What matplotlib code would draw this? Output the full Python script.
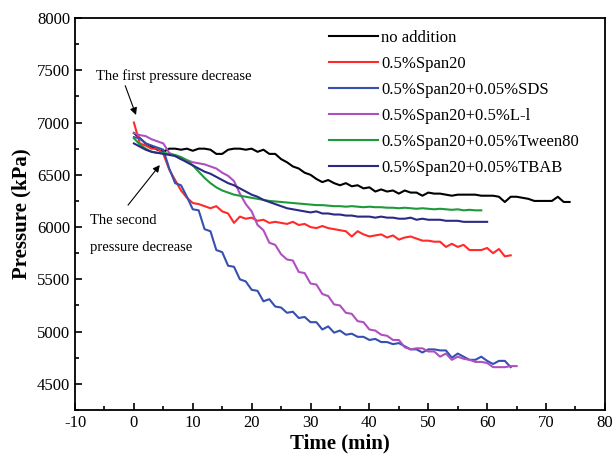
import numpy as np
from matplotlib import pyplot as plt
from matplotlib.ticker import MultipleLocator

plt.rcParams["font.family"] = ["Liberation Serif", "DejaVu Serif"]
plt.rcParams["axes.unicode_minus"] = False

# pressure readings (kPa), one per minute starting at t = 0
no_addition = [6900, 6850, 6800, 6770, 6740, 6720, 6750, 6750, 6740, 6750,
               6730, 6750, 6750, 6740, 6700, 6700, 6740, 6750, 6750, 6740,
               6750, 6720, 6740, 6700, 6700, 6650, 6620, 6580, 6560, 6520,
               6500, 6460, 6430, 6450, 6420, 6400, 6420, 6390, 6400, 6370,
               6380, 6340, 6360, 6340, 6350, 6320, 6350, 6330, 6330, 6300,
               6330, 6320, 6320, 6310, 6300, 6310, 6310, 6310, 6310, 6300,
               6300, 6300, 6290, 6240, 6290, 6290, 6280, 6270, 6250, 6250,
               6250, 6250, 6290, 6240, 6240]
span20 = [7000, 6800, 6780, 6750, 6750, 6700, 6550, 6450, 6350, 6280,
          6230, 6220, 6200, 6180, 6200, 6150, 6130, 6040, 6100, 6080,
          6090, 6060, 6070, 6040, 6050, 6040, 6030, 6050, 6020, 6030,
          6000, 5990, 6010, 5990, 5980, 5970, 5960, 5910, 5960, 5930,
          5910, 5920, 5930, 5900, 5920, 5880, 5900, 5910, 5890, 5870,
          5870, 5860, 5860, 5810, 5840, 5810, 5830, 5780, 5780, 5780,
          5800, 5750, 5790, 5720, 5730]
span20_sds = [6860, 6850, 6800, 6780, 6760, 6740, 6560, 6420, 6400, 6290,
              6170, 6160, 5980, 5960, 5780, 5760, 5630, 5620, 5500, 5480,
              5400, 5390, 5290, 5310, 5240, 5230, 5180, 5190, 5130, 5140,
              5090, 5090, 5020, 5050, 4990, 5010, 4970, 4980, 4950, 4950,
              4920, 4930, 4900, 4900, 4880, 4890, 4860, 4830, 4830, 4800,
              4830, 4830, 4820, 4820, 4750, 4790, 4760, 4730, 4730, 4760,
              4720, 4690, 4720, 4720, 4660]
span20_l1 = [6900, 6880, 6870, 6840, 6820, 6800, 6710, 6680, 6650, 6640,
             6620, 6610, 6600, 6580, 6560, 6520, 6490, 6440, 6320, 6220,
             6150, 6020, 5970, 5850, 5830, 5740, 5690, 5680, 5570, 5560,
             5460, 5450, 5360, 5340, 5260, 5250, 5180, 5170, 5100, 5090,
             5020, 5010, 4970, 4960, 4920, 4920, 4850, 4830, 4840, 4840,
             4810, 4810, 4760, 4790, 4730, 4760, 4740, 4730, 4710, 4710,
             4700, 4660, 4660, 4660, 4670, 4670]
span20_tween = [6850, 6790, 6750, 6720, 6710, 6710, 6700, 6690, 6670, 6640,
                6590, 6530, 6470, 6420, 6380, 6350, 6330, 6310, 6300, 6290,
                6280, 6270, 6260, 6250, 6245, 6240, 6235, 6230, 6225, 6220,
                6215, 6210, 6210, 6205, 6200, 6200, 6195, 6200, 6195, 6190,
                6195, 6190, 6190, 6185, 6185, 6180, 6185, 6180, 6175, 6180,
                6175, 6170, 6175, 6170, 6165, 6170, 6160, 6165, 6160, 6160]
span20_tbab = [6800, 6770, 6740, 6720, 6710, 6700, 6690, 6680, 6650, 6620,
               6590, 6560, 6530, 6510, 6480, 6450, 6420, 6400, 6370, 6340,
               6310, 6290, 6260, 6240, 6220, 6200, 6180, 6170, 6160, 6150,
               6140, 6150, 6130, 6130, 6120, 6120, 6110, 6110, 6100, 6100,
               6100, 6090, 6100, 6090, 6090, 6080, 6080, 6090, 6070, 6080,
               6070, 6070, 6070, 6060, 6060, 6060, 6050, 6050, 6050, 6050,
               6050]

series = [
    ("no addition", no_addition, "black"),
    ("0.5%Span20", span20, "#ff2a2a"),
    ("0.5%Span20+0.05%SDS", span20_sds, "#3550b0"),
    ("0.5%Span20+0.5%L-l", span20_l1, "#b050c0"),
    ("0.5%Span20+0.05%Tween80", span20_tween, "#1f9a3a"),
    ("0.5%Span20+0.05%TBAB", span20_tbab, "#2a2a85"),
]

fig = plt.figure(figsize=(6.16, 4.58), dpi=100)
ax = fig.add_axes([0.1218, 0.1048, 0.8602, 0.8559])

for label, p, color in series:
    t = np.arange(len(p))
    ax.plot(t, p, color=color, lw=1.5, label=label)

ax.set_xlim(-10, 80)
ax.set_ylim(4250, 8000)
ax.xaxis.set_major_locator(MultipleLocator(10))
ax.xaxis.set_minor_locator(MultipleLocator(5))
ax.yaxis.set_major_locator(MultipleLocator(500))
ax.yaxis.set_minor_locator(MultipleLocator(250))
ax.tick_params(which="both", direction="in", labelsize=12, width=1.2)
ax.tick_params(which="major", length=5)
ax.tick_params(which="minor", length=3)
for s in ax.spines.values():
    s.set_linewidth(1.3)

ax.set_xlabel("Time (min)", fontsize=15, fontweight="bold", labelpad=2)
ax.set_ylabel("Pressure (kPa)", fontsize=15, fontweight="bold", labelpad=4)

ax.legend(loc="upper left", bbox_to_anchor=(0.458, 1.0), frameon=False,
          fontsize=12, handlelength=2.9, handletextpad=0.2,
          labelspacing=0.6, borderpad=0.2)

ax.annotate("The first pressure decrease", xy=(0.36, 7072), xytext=(-6.4, 7445),
            fontsize=10.5, va="center", ha="left",
            arrowprops=dict(arrowstyle="-|>", color="black", lw=0.8,
                            shrinkA=0, shrinkB=0, relpos=(0.18, 0.0)))
ax.annotate("", xy=(4.4, 6593), xytext=(-1.0, 6210),
            arrowprops=dict(arrowstyle="-|>", color="black", lw=0.8,
                            shrinkA=0, shrinkB=0))
ax.text(-7.45, 6067, "The second", fontsize=10.5, va="center", ha="left")
ax.text(-7.45, 5809, "pressure decrease", fontsize=10.5, va="center", ha="left")

plt.savefig("out.png", dpi=100)
